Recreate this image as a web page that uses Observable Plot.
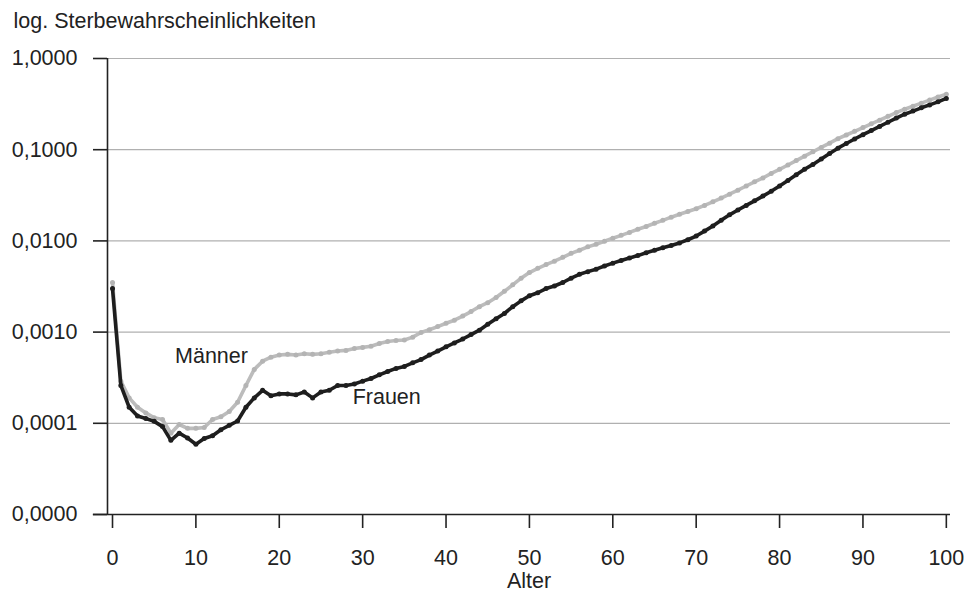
<!DOCTYPE html>
<html>
<head>
<meta charset="utf-8">
<script src="https://cdn.jsdelivr.net/npm/d3@7"></script>
<script src="https://cdn.jsdelivr.net/npm/@observablehq/plot@0.6"></script>
<style>
  html, body { margin: 0; padding: 0; background: #fff; }
  #chart svg { display: block; }
</style>
</head>
<body>
<div id="chart"></div>
<script>
const ages = d3.range(0, 101);
const maenner = [
  0.0035, 0.00029, 0.00019, 0.00015, 0.00013, 0.000115, 0.00011, 0.000078, 0.000097, 0.000088,
  0.000088, 0.00009, 0.00011, 0.000118, 0.000135, 0.00017, 0.00026, 0.00039, 0.00048, 0.00053,
  0.00056, 0.00057, 0.00056, 0.00058, 0.00057, 0.00058, 0.0006, 0.00062, 0.00063, 0.00066,
  0.00068, 0.0007, 0.00075, 0.00079, 0.00081, 0.00082, 0.00088, 0.00099, 0.00106, 0.00115,
  0.00125, 0.00135, 0.0015, 0.00168, 0.0019, 0.0021, 0.0024, 0.0028, 0.0033, 0.0039,
  0.0045, 0.005, 0.0055, 0.006, 0.0066, 0.0073, 0.0079, 0.0086, 0.0092, 0.0099,
  0.0107, 0.0115, 0.0124, 0.0134, 0.0144, 0.0156, 0.0168, 0.0182, 0.0196, 0.021,
  0.0225, 0.0245, 0.0268, 0.0295, 0.0325, 0.036, 0.04, 0.0445, 0.049, 0.055,
  0.061, 0.068, 0.076, 0.085, 0.095, 0.106, 0.118, 0.132, 0.145, 0.159,
  0.175, 0.192, 0.211, 0.232, 0.255, 0.278, 0.3, 0.324, 0.35, 0.378,
  0.405
];
const frauen = [
  0.003, 0.00026, 0.00015, 0.00012, 0.000113, 0.000105, 0.000092, 0.000065, 0.000078, 0.000069,
  0.000059, 0.000068, 0.000073, 0.000085, 0.000095, 0.000106, 0.00015, 0.00019, 0.00023, 0.0002,
  0.00021, 0.00021, 0.000205, 0.00022, 0.00019, 0.00022, 0.00023, 0.00026, 0.00026, 0.00027,
  0.00029, 0.00031, 0.00034, 0.00037, 0.0004, 0.00042, 0.00046, 0.0005, 0.00056, 0.00062,
  0.00069, 0.00076, 0.00084, 0.00094, 0.00105, 0.00122, 0.0014, 0.0016, 0.0019, 0.0022,
  0.0025, 0.0027, 0.003, 0.0032, 0.0035, 0.0039, 0.0043, 0.0046, 0.0049, 0.0053,
  0.0057, 0.0061, 0.0065, 0.0069, 0.0074, 0.0079, 0.0084, 0.0089, 0.0095, 0.0103,
  0.0113, 0.0128, 0.0146, 0.0168, 0.0193, 0.0218, 0.0245, 0.0275, 0.031, 0.035,
  0.04, 0.046, 0.053, 0.061, 0.069, 0.079, 0.091, 0.104, 0.117, 0.131,
  0.146, 0.162, 0.18, 0.2, 0.222, 0.245, 0.265, 0.288, 0.31, 0.335,
  0.365
];
const xTicks = [0, 10, 20, 30, 40, 50, 60, 70, 80, 90, 100];
const yTicks = [0.00001, 0.0001, 0.001, 0.01, 0.1, 1];
const seriesLabels = [
  {name: "Männer", age: 7.5, value: 0.00055},
  {name: "Frauen", age: 28.8, value: 0.000194}
];
const titleText = "log. Sterbewahrscheinlichkeiten";
const xLabel = "Alter";

const men = ages.map((a, i) => ({age: a, v: maenner[i]}));
const women = ages.map((a, i) => ({age: a, v: frauen[i]}));
const fmt = d => d.toFixed(4).replace(".", ",");
const ink = "#222";
const fs = 21.5;

const chart = Plot.plot({
  width: 967,
  height: 593,
  marginLeft: 107,
  marginRight: 17,
  marginTop: 58,
  marginBottom: 79,
  style: {fontFamily: "'Liberation Sans', Arial, sans-serif", fontSize: fs + "px", color: ink, background: "#fff", overflow: "visible"},
  x: {domain: [-0.6, 100.5], label: null},
  y: {type: "log", domain: [0.00001, 1], label: null},
  marks: [
    Plot.ruleY(yTicks.slice(1), {stroke: "#b0b0b0", strokeWidth: 1.2}),
    Plot.axisX({ticks: xTicks, tickSize: 14, tickPadding: 21, stroke: ink, strokeWidth: 1.6, label: null, fill: ink, fontSize: fs}),
    Plot.axisY({ticks: yTicks, tickFormat: fmt, tickSize: 14, tickPadding: 16, stroke: ink, strokeWidth: 1.6, label: null, fill: ink, fontSize: fs}),
    Plot.ruleX([-0.6], {stroke: ink, strokeWidth: 1.6}),
    Plot.ruleY([0.00001], {x1: -2.3, x2: 100.5, stroke: ink, strokeWidth: 1.6}),
    Plot.line(men, {x: "age", y: "v", stroke: "#bcbcbc", strokeWidth: 3.6}),
    Plot.dot(men, {x: "age", y: "v", fill: "#b4b4b4", r: 2.5}),
    Plot.line(women, {x: "age", y: "v", stroke: "#1e1e1e", strokeWidth: 3.6}),
    Plot.dot(women, {x: "age", y: "v", fill: "#1e1e1e", r: 2.5}),
    Plot.text(seriesLabels, {x: "age", y: "value", text: "name", textAnchor: "start", fill: ink, fontSize: fs}),
    Plot.text([titleText], {frameAnchor: "top-left", dx: -94, dy: -37, text: d => d, textAnchor: "start", lineAnchor: "middle", fill: ink, fontSize: fs}),
    Plot.text([xLabel], {frameAnchor: "bottom", dy: 67, text: d => d, lineAnchor: "middle", fill: ink, fontSize: fs})
  ]
});
document.getElementById("chart").appendChild(chart);
</script>
</body>
</html>
